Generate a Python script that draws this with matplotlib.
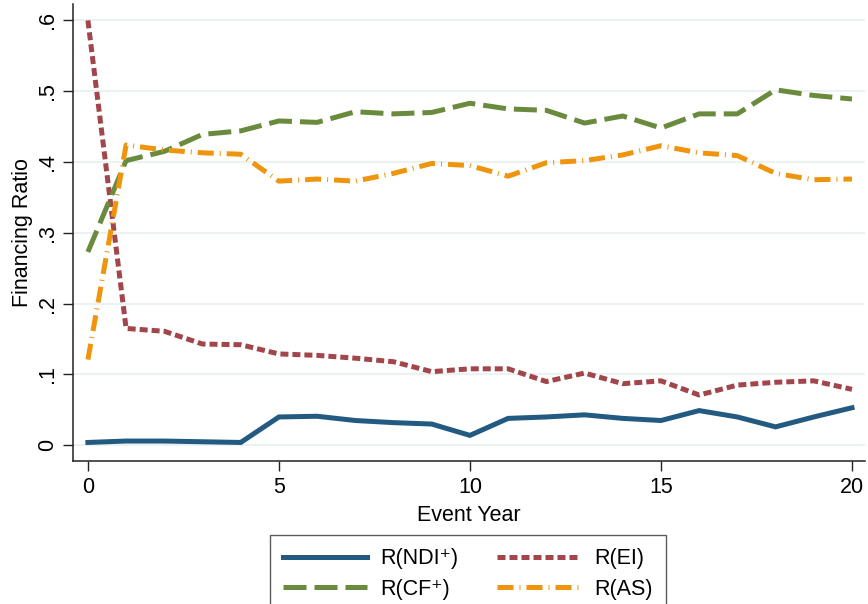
import numpy as np
import matplotlib
matplotlib.use("Agg")
import matplotlib.pyplot as plt

plt.rcParams["font.family"] = ["Liberation Sans", "DejaVu Sans"]

years = np.arange(0, 21)

r_ndi = [0.004, 0.006, 0.006, 0.005, 0.004, 0.040, 0.041, 0.035, 0.032, 0.030, 0.014,
         0.038, 0.040, 0.043, 0.038, 0.035, 0.049, 0.040, 0.026, 0.040, 0.053]
r_ei = [0.600, 0.165, 0.161, 0.143, 0.142, 0.129, 0.127, 0.123, 0.118, 0.104, 0.108,
        0.108, 0.090, 0.102, 0.087, 0.091, 0.071, 0.085, 0.089, 0.091, 0.079]
r_cf = [0.273, 0.402, 0.415, 0.439, 0.444, 0.458, 0.456, 0.471, 0.468, 0.470, 0.483,
        0.475, 0.473, 0.455, 0.465, 0.448, 0.468, 0.468, 0.502, 0.494, 0.489]
r_as = [0.121, 0.424, 0.417, 0.413, 0.411, 0.373, 0.376, 0.373, 0.384, 0.398, 0.395,
        0.380, 0.399, 0.402, 0.410, 0.423, 0.413, 0.409, 0.384, 0.375, 0.376]

labels = ["R(NDI\u207a)", "R(EI)", "R(CF\u207a)", "R(AS)"]
colors = ["#225a82", "#a3464b", "#6a8b3e", "#ee950d"]

fs = 15.5

fig = plt.figure(figsize=(8.68, 6.04), dpi=100)
ax = fig.add_axes([0.0841, 0.2372, 0.9124, 0.756])

lw = 3.6
l_ndi, = ax.plot(years, r_ndi, color=colors[0], lw=lw, solid_joinstyle="miter")
l_ei, = ax.plot(years, r_ei, color=colors[1], lw=lw, dashes=(1.6, 0.8))
l_cf, = ax.plot(years, r_cf, color=colors[2], lw=lw, dashes=(4.6, 1.6))
l_as, = ax.plot(years, r_as, color=colors[3], lw=lw, dashes=(3.2, 1.2, 0.2, 1.2))

ax.set_xlim(-0.39, 20.34)
ax.set_ylim(-0.0218, 0.623)
ax.set_xticks([0, 5, 10, 15, 20])
yt = [0, 0.1, 0.2, 0.3, 0.4, 0.5, 0.6]
ax.set_yticks(yt)
ax.set_yticklabels(["0", ".1", ".2", ".3", ".4", ".5", ".6"], rotation=90, va="center")
ax.tick_params(axis="both", labelsize=fs, length=7, width=1.0, color="#222222")
ax.tick_params(axis="y", pad=4)
ax.tick_params(axis="x", pad=5)
ax.grid(axis="y", color="#e9f1f1", lw=1.3)
ax.set_axisbelow(True)
for s in ["top", "right"]:
    ax.spines[s].set_visible(False)
for s in ["left", "bottom"]:
    ax.spines[s].set_linewidth(1.1)
    ax.spines[s].set_color("#222222")

ax.set_xlabel("Event Year", fontsize=fs, labelpad=5)
ax.set_ylabel("Financing Ratio", fontsize=fs, labelpad=3)

leg = fig.legend([l_ndi, l_cf, l_ei, l_as], [labels[0], labels[2], labels[1], labels[3]],
                 ncol=2, loc="upper left", bbox_to_anchor=(270 / 868, 1 - 534.7 / 604),
                 borderaxespad=0, fontsize=fs, handlelength=3.9, handletextpad=0.6,
                 columnspacing=1.8, labelspacing=0.45, borderpad=0.62,
                 fancybox=False, frameon=True)
leg.get_frame().set_edgecolor("#333333")
leg.get_frame().set_linewidth(1.0)

fig.savefig("out.png", dpi=100)
